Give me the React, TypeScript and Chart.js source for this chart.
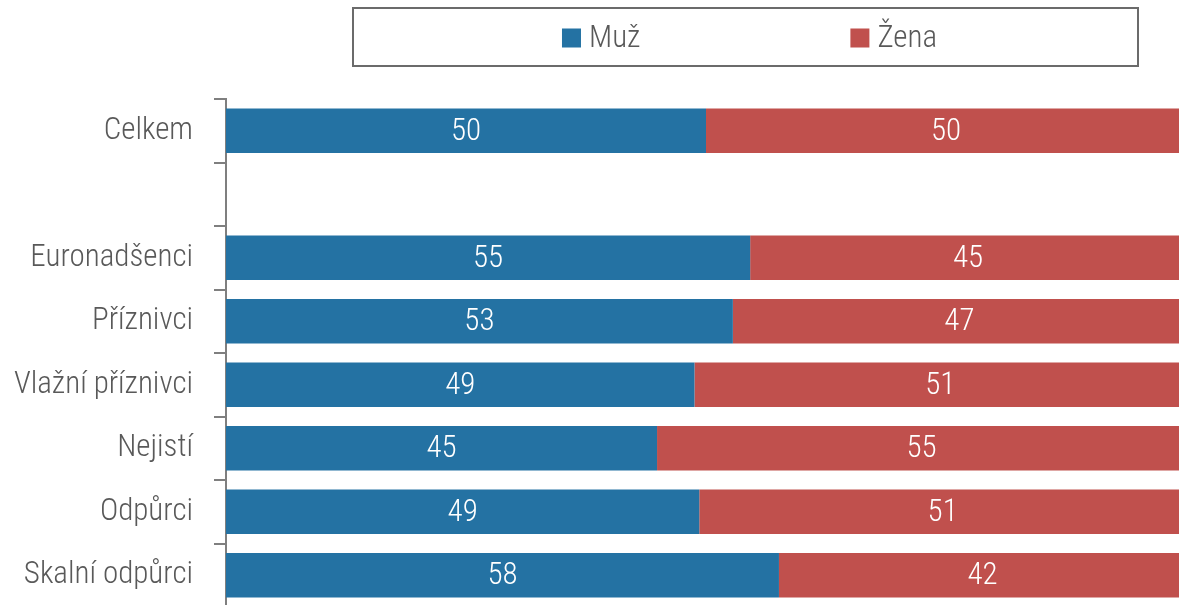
import React, { useEffect, useRef } from 'react';
import { Chart, registerables } from 'chart.js';

Chart.register(...registerables);

const categories = ['Celkem', '', 'Euronadšenci', 'Příznivci', 'Vlažní příznivci', 'Nejistí', 'Odpůrci', 'Skalní odpůrci'];
const muzValues = [50.0, null, 54.6, 52.8, 48.8, 44.9, 49.3, 57.6];
const zenaValues = [50.0, null, 45.4, 47.2, 51.2, 55.1, 50.7, 42.4];
const seriesNames = ['Muž', 'Žena'];
const seriesColors = ['#2472A3', '#C0504D'];

const FONT = "'Roboto Condensed', 'Liberation Sans Narrow', 'Arial Narrow', 'Roboto', sans-serif";
const TEXT_COLOR = '#595959';
const AXIS_COLOR = '#7f7f7f';

const legendBoxPlugin = {
  id: 'legendBox',
  afterDraw(chart: any) {
    const ctx = chart.ctx;
    ctx.save();
    const bx = 353, by = 8, bw = 785, bh = 58;
    ctx.strokeStyle = '#6b6b6b';
    ctx.lineWidth = 2;
    ctx.strokeRect(bx, by, bw, bh);
    ctx.font = `300 31px ${FONT}`;
    ctx.textBaseline = 'middle';
    ctx.textAlign = 'left';
    const box = 19, gapText = 8, gapItems = 210;
    const ds = chart.data.datasets;
    const widths = ds.map((d: any) => box + gapText + ctx.measureText(d.label).width);
    const total = widths.reduce((a: number, b: number) => a + b, 0) + gapItems * (ds.length - 1);
    let x = bx + bw / 2 - total / 2 + 4;
    const cy = by + bh / 2;
    ds.forEach((d: any, i: number) => {
      ctx.fillStyle = d.backgroundColor;
      ctx.fillRect(x, cy - box / 2 + 1, box, box);
      ctx.fillStyle = TEXT_COLOR;
      ctx.fillText(d.label, x + box + gapText, cy + 2);
      x += widths[i] + gapItems;
    });
    ctx.restore();
  },
};

const valueLabelPlugin = {
  id: 'valueLabels',
  afterDatasetsDraw(chart: any) {
    const ctx = chart.ctx;
    ctx.save();
    ctx.font = `300 31px ${FONT}`;
    ctx.fillStyle = '#ffffff';
    ctx.textAlign = 'center';
    ctx.textBaseline = 'middle';
    chart.data.datasets.forEach((d: any, di: number) => {
      const meta = chart.getDatasetMeta(di);
      meta.data.forEach((el: any, i: number) => {
        const v = d.data[i];
        if (v === null || v === undefined) return;
        const props = el.getProps(['x', 'y', 'base'], true);
        ctx.fillText(String(Math.round(v)), (props.x + props.base) / 2, props.y + 1);
      });
    });
    ctx.restore();
  },
};

export default function App() {
  const ref = useRef<HTMLCanvasElement>(null);
  useEffect(() => {
    if (!ref.current) return;
    const chart = new Chart(ref.current, {
      type: 'bar',
      data: {
        labels: categories,
        datasets: [
          { label: seriesNames[0], data: muzValues, backgroundColor: seriesColors[0], borderWidth: 0 },
          { label: seriesNames[1], data: zenaValues, backgroundColor: seriesColors[1], borderWidth: 0 },
        ],
      },
      options: {
        indexAxis: 'y',
        animation: false,
        responsive: false,
        layout: { padding: { top: 99, left: 0, right: 0, bottom: 0 } },
        datasets: { bar: { barPercentage: 0.7, categoryPercentage: 1 } },
        plugins: { legend: { display: false }, tooltip: { enabled: false } },
        scales: {
          x: { stacked: true, min: 0, max: 100, display: false },
          y: {
            stacked: true,
            grid: { offset: true, drawOnChartArea: false, drawTicks: true, tickLength: 12, color: AXIS_COLOR, lineWidth: 2 },
            border: { display: true, color: AXIS_COLOR, width: 2 },
            ticks: { padding: 21, color: TEXT_COLOR, font: { family: FONT, size: 31, weight: '300' } },
            afterFit(scale: any) {
              scale.width = 226;
              scale.paddingTop = 0;
              scale.paddingBottom = 0;
            },
          },
        },
      } as any,
      plugins: [legendBoxPlugin, valueLabelPlugin],
    });
    return () => chart.destroy();
  }, []);
  return (
    <div style={{ position: 'fixed', top: 0, left: 0, width: 1179, height: 607, background: '#fff', overflow: 'hidden' }}>
      <canvas ref={ref} width={1186} height={607} style={{ display: 'block' }} />
    </div>
  );
}
